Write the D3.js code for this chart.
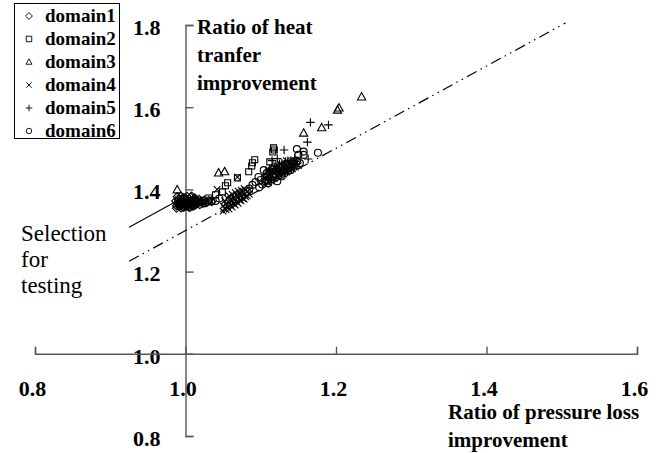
<!DOCTYPE html>
<html>
<head>
<meta charset="utf-8">
<script src="https://cdn.jsdelivr.net/npm/d3@7"></script>
<style>
  html, body { margin: 0; padding: 0; background: #fff; }
  svg { display: block; }
  text { font-family: "Liberation Serif", Tinos, "DejaVu Serif", serif; fill: #000; }
</style>
</head>
<body>
<svg id="chart" width="666" height="453"></svg>
<script>
// Tick labels
const xTicks = [0.8, 1.0, 1.2, 1.4, 1.6];
const yTicks = [0.8, 1.0, 1.2, 1.4, 1.6, 1.8];

// Series names, in legend order
const seriesNames = ["domain1", "domain2", "domain3", "domain4", "domain5", "domain6"];

// [pressure-loss ratio, heat-transfer ratio] per design
const domain1 = [
  [0.987,1.372],[0.988,1.360],[0.989,1.382],[0.990,1.366],[0.991,1.376],[0.992,1.358],
  [0.993,1.370],[0.994,1.384],[0.995,1.362],[0.996,1.374],[0.997,1.356],[0.998,1.380],
  [0.999,1.366],[1.000,1.372],[1.001,1.360],[1.002,1.383],[1.003,1.368],[1.004,1.357],
  [1.005,1.377],[1.006,1.364],[1.007,1.381],[1.008,1.370],[1.009,1.359],[1.010,1.375],
  [1.011,1.366],[1.012,1.379],[1.013,1.362],[1.014,1.372],[1.016,1.368],[1.018,1.376],
  [1.019,1.363],[1.021,1.371],[1.023,1.366],[1.025,1.374],[1.028,1.369],[1.031,1.373],
  [1.035,1.370],[0.992,1.366],[0.997,1.369],[1.003,1.373],[1.009,1.365],
  [0.988,1.354],[0.991,1.363],[0.994,1.355],[0.996,1.379],[0.999,1.358],[1.001,1.377],
  [1.004,1.363],[1.006,1.356],[1.008,1.384],[1.011,1.360],[1.013,1.378],[1.015,1.364]
];
const domain2 = [
  [1.031,1.379],[1.040,1.387],[1.049,1.394],[1.053,1.409],[1.056,1.416],[1.069,1.428],
  [1.084,1.443],[1.088,1.457],[1.089,1.465],[1.092,1.472],[1.112,1.467],[1.116,1.491],
  [1.117,1.501],[1.118,1.496]
];
const domain3 = [
  [0.989,1.399],[1.044,1.440],[1.052,1.443],[1.157,1.537],[1.181,1.550],[1.202,1.593],
  [1.204,1.598],[1.234,1.625]
];
const domain4 = [
  [1.050,1.347],[1.050,1.360],[1.052,1.354],[1.052,1.372],[1.054,1.350],[1.054,1.365],
  [1.056,1.358],[1.056,1.378],[1.058,1.352],[1.058,1.368],[1.058,1.384],[1.060,1.362],
  [1.060,1.376],[1.062,1.357],[1.062,1.372],[1.062,1.388],[1.064,1.366],[1.064,1.380],
  [1.066,1.362],[1.066,1.375],[1.066,1.392],[1.068,1.370],[1.068,1.386],[1.070,1.366],
  [1.070,1.380],[1.070,1.396],[1.072,1.374],[1.072,1.390],[1.074,1.372],[1.074,1.384],
  [1.074,1.398],[1.076,1.378],[1.076,1.394],[1.078,1.376],[1.078,1.388],[1.078,1.402],
  [1.080,1.382],[1.080,1.398],[1.082,1.384],[1.082,1.394],[1.085,1.388],[1.085,1.400],
  [1.042,1.400],[1.069,1.430],
  [1.106,1.412],[1.106,1.428],[1.110,1.418],[1.110,1.434],[1.110,1.446],[1.114,1.420],
  [1.114,1.436],[1.118,1.426],[1.118,1.442],[1.118,1.454],[1.122,1.430],[1.122,1.446],
  [1.126,1.434],[1.126,1.450],[1.126,1.462],[1.130,1.438],[1.130,1.454],[1.134,1.442],
  [1.134,1.458],[1.134,1.470],[1.138,1.446],[1.138,1.462],[1.142,1.450],[1.142,1.466],
  [1.146,1.454],[1.146,1.470],[1.150,1.458]
];
const domain5 = [
  [1.166,1.563],[1.190,1.557],[1.162,1.515],[1.131,1.496],[1.163,1.474],[1.122,1.475],
  [1.115,1.470],[1.125,1.462],[1.133,1.468],[1.138,1.460],[1.118,1.455],[1.127,1.450],
  [1.140,1.470],[1.110,1.445],[1.145,1.476],[1.121,1.448],[1.134,1.455],
  [1.108,1.436],[1.112,1.450],[1.116,1.440],[1.120,1.458],[1.124,1.444],[1.128,1.464],
  [1.132,1.448],[1.136,1.470],[1.140,1.455],[1.144,1.462],[1.148,1.468],[1.114,1.428],
  [1.126,1.440]
];
const domain6 = [
  [0.990,1.370],[0.994,1.366],[0.998,1.374],[1.002,1.369],[1.006,1.372],[1.010,1.366],
  [1.014,1.372],[1.018,1.368],[1.022,1.372],[1.026,1.366],[1.030,1.370],[1.034,1.372],
  [1.040,1.372],[1.045,1.378],[1.085,1.402],[1.089,1.411],[1.093,1.418],[1.097,1.430],
  [1.100,1.423],[1.104,1.447],[1.098,1.405],[1.102,1.412],[1.106,1.420],[1.108,1.432],
  [1.110,1.415],[1.112,1.440],[1.114,1.425],[1.116,1.450],[1.118,1.430],[1.120,1.445],
  [1.122,1.420],[1.124,1.438],[1.126,1.452],[1.128,1.432],[1.130,1.446],[1.132,1.440],
  [1.134,1.458],[1.136,1.445],[1.138,1.452],[1.140,1.447],[1.142,1.465],[1.145,1.455],
  [1.148,1.498],[1.150,1.484],[1.152,1.464],[1.157,1.484],[1.157,1.492],[1.176,1.489],
  [1.148,1.470],[1.108,1.440],[1.116,1.436],[1.124,1.446],[1.132,1.452]
];
const seriesValues = [domain1, domain2, domain3, domain4, domain5, domain6];

// Reference lines: selection boundary (solid) and trend (dash-dot-dot)
const selectionLine = [[0.925,1.308],[0.985,1.368]];
const trendLine = [[0.925,1.225],[1.505,1.805]];

const svg = d3.select("#chart");
const serif = '"Liberation Serif", Tinos, "DejaVu Serif", serif';

const x = d3.scaleLinear().domain([0.8, 1.6]).range([35, 637]);
const y = d3.scaleLinear().domain([0.8, 1.8]).range([436, 25]);
const fmt = d3.format(".1f");

// Marker shapes drawn with thin outlines
const shapeDiamond = { draw(c, s) { const r = Math.sqrt(s) * 0.62;
  c.moveTo(0,-r); c.lineTo(r,0); c.lineTo(0,r); c.lineTo(-r,0); c.closePath(); } };
const shapeSquare = { draw(c, s) { const r = Math.sqrt(s) / 2;
  c.rect(-r, -r, 2*r, 2*r); } };
const shapeTriangle = { draw(c, s) { const r = Math.sqrt(s) * 0.58;
  c.moveTo(0,-r); c.lineTo(r*0.95, r*0.7); c.lineTo(-r*0.95, r*0.7); c.closePath(); } };
const shapeTimes = { draw(c, s) { const r = Math.sqrt(s) / 2;
  c.moveTo(-r,-r); c.lineTo(r,r); c.moveTo(r,-r); c.lineTo(-r,r); } };
const shapePlus = { draw(c, s) { const r = Math.sqrt(s) * 0.6;
  c.moveTo(-r,0); c.lineTo(r,0); c.moveTo(0,-r); c.lineTo(0,r); } };
const shapeCircle = { draw(c, s) { const r = Math.sqrt(s) / 2;
  c.moveTo(r,0); c.arc(0,0,r,0,2*Math.PI); } };
const shapes = [shapeDiamond, shapeSquare, shapeTriangle, shapeTimes, shapePlus, shapeCircle];
const sizes = [42, 36, 56, 42, 49, 49];

// Y axis: ticks point right, labels on the left
const yAxis = d3.axisLeft(y).tickValues(yTicks).tickFormat(fmt)
  .tickSizeInner(-8).tickSizeOuter(-8).tickPadding(25);
const gy = svg.append("g").attr("transform", `translate(${x(1.0)},0)`).call(yAxis);

// X axis: ticks point up, labels well below
const xAxis = d3.axisBottom(x).tickValues(xTicks).tickFormat(fmt)
  .tickSizeInner(-7).tickSizeOuter(-7).tickPadding(27);
const gx = svg.append("g").attr("transform", `translate(0,${y(1.0)})`).call(xAxis);

[gx, gy].forEach(g => {
  g.attr("font-family", null);
  g.selectAll("path.domain, .tick line").attr("stroke", "#555").attr("stroke-width", 1.4);
  g.selectAll("text").style("font-family", serif)
    .style("font-weight", "bold").style("font-size", "22px").attr("fill", "#000");
});
gx.selectAll("text").attr("dx", -3);
gy.selectAll("text").attr("dy", "0.42em");

// Reference lines
const line = d3.line().x(d => x(d[0])).y(d => y(d[1]));
svg.append("path").datum(selectionLine).attr("d", line)
  .attr("fill", "none").attr("stroke", "#000").attr("stroke-width", 1.1);
svg.append("path").datum(trendLine).attr("d", line)
  .attr("fill", "none").attr("stroke", "#000").attr("stroke-width", 1.2)
  .attr("stroke-dasharray", "11,4.5,1.5,4.5,1.5,4.5");

// Points
seriesValues.forEach((pts, i) => {
  const sym = d3.symbol().type(shapes[i]).size(sizes[i]);
  svg.append("g").selectAll("path").data(pts).join("path")
    .attr("transform", d => `translate(${x(d[0])},${y(d[1])})`)
    .attr("d", sym)
    .attr("fill", "none").attr("stroke", "#000").attr("stroke-width", 1.1);
});

// Legend
const lg = svg.append("g");
lg.append("rect").attr("x", 14.5).attr("y", 3.5).attr("width", 105).attr("height", 135)
  .attr("fill", "#fff").attr("stroke", "#000").attr("stroke-width", 1);
seriesNames.forEach((name, i) => {
  const cy = 16 + i * 23;
  lg.append("path").attr("transform", `translate(29,${cy})`)
    .attr("d", d3.symbol().type(shapes[i]).size(30)())
    .attr("fill", "none").attr("stroke", "#000").attr("stroke-width", 0.9);
  lg.append("text").attr("x", 45).attr("y", cy + 6)
    .style("font-family", serif)
    .style("font-weight", "bold").style("font-size", "19px").text(name);
});

// Axis titles
const yTitle = ["Ratio of heat", "tranfer", "improvement"];
svg.append("text").attr("x", 197).attr("y", 34)
  .style("font-family", serif)
  .style("font-weight", "bold").style("font-size", "21px")
  .selectAll("tspan").data(yTitle).join("tspan")
  .attr("x", 197).attr("dy", (d, i) => i ? 28 : 0).text(d => d);

const xTitle = ["Ratio of pressure loss", "improvement"];
svg.append("text").attr("x", 448).attr("y", 419)
  .style("font-family", serif)
  .style("font-weight", "bold").style("font-size", "21px")
  .selectAll("tspan").data(xTitle).join("tspan")
  .attr("x", 448).attr("dy", (d, i) => i ? 28 : 0).text(d => d);

// Annotation
const note = ["Selection", "for", "testing"];
svg.append("text").attr("x", 21).attr("y", 241)
  .style("font-family", serif)
  .style("font-size", "23px")
  .selectAll("tspan").data(note).join("tspan")
  .attr("x", 21).attr("dy", (d, i) => i ? 26 : 0).text(d => d);
</script>
</body>
</html>
